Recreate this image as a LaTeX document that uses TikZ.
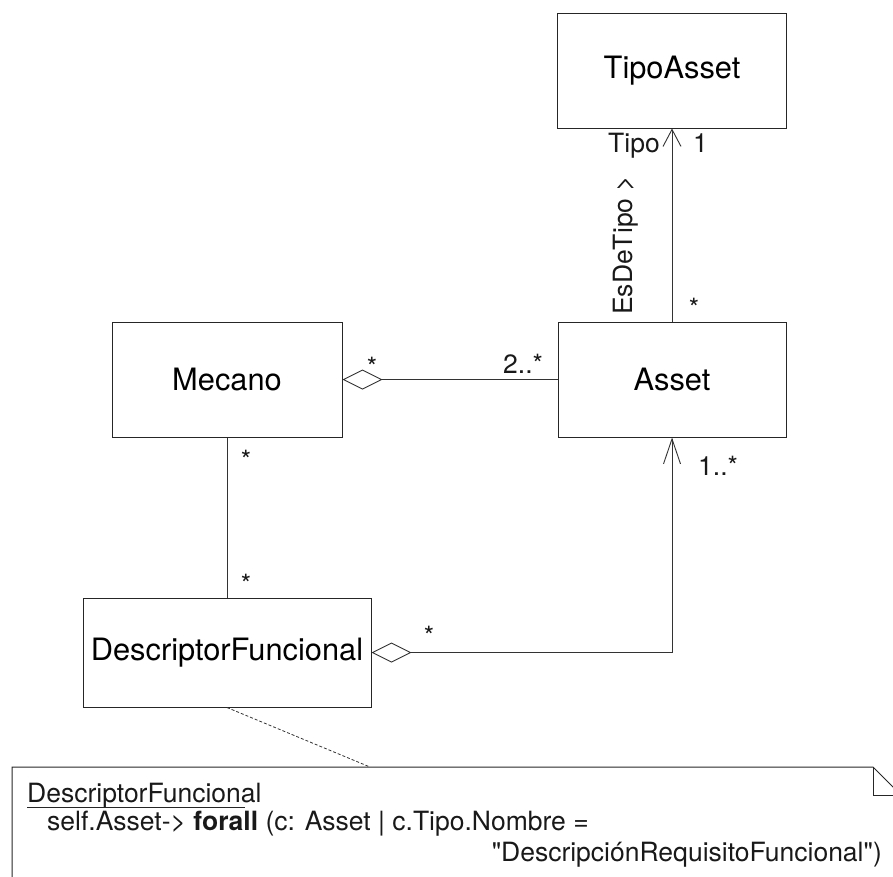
\documentclass[tikz,border=0pt]{standalone}
\usepackage{fontspec}
\setmainfont{TeX Gyre Heros}
\newfontfamily\plainheros{TeX Gyre Heros}[Ligatures=TeXOff]
\usetikzlibrary{arrows.meta}
\begin{document}
\begin{tikzpicture}[x=1pt,y=-1pt,
  cls/.style={draw=black!85, line width=1pt, inner sep=0pt, font=\fontsize{30.8}{36}\selectfont},
  lbl/.style={inner sep=0pt, font=\fontsize{26.5}{32}\selectfont, text=black!90},
  conn/.style={draw=black!80, line width=0.9pt},
  agg/.style={{Diamond[open,length=40pt,width=20pt]}-},
  aggnav/.style={{Diamond[open,length=40pt,width=20pt]}-{Straight Barb[length=25pt,width=17pt]}},
  navA/.style={-{Straight Barb[length=17pt,width=18pt]}},
  noteline/.style={draw=black!85, line width=1pt},
]
\useasboundingbox (0,0) rectangle (893,876);
\clip (0,0) rectangle (893,876);

% classes
\node[cls, minimum width=229pt, minimum height=115pt] (tipo) at (672,70.5) {TipoAsset};
\node[cls, minimum width=228pt, minimum height=115pt] (asset) at (672,379.5) {Asset};
\node[cls, minimum width=230pt, minimum height=115pt] (mecano) at (227,379.5) {Mecano};
\node[cls, minimum width=288pt, minimum height=109pt] (df) at (227,652.5) {DescriptorFuncional};

% connectors
\draw[conn, navA] (asset.north) -- (tipo.south);
\draw[conn, agg] (mecano.east) -- (asset.west);
\draw[conn] (mecano.south) -- (df.north);
\draw[conn, aggnav] (df.east) -| (asset.south);

% labels
\node[lbl, anchor=base west] (ltipo) at (608,152) {Tipo};
\node[lbl, anchor=base west] (lone) at (693,152) {1};
\node[lbl, anchor=base] (sA) at (694,317) {*};
\node[lbl, anchor=base west, rotate=90] (esde) at (632,315) {EsDeTipo >};
\node[lbl, anchor=base] (sM) at (372,376) {*};
\node[lbl, anchor=base west] (ltwo) at (503,373) {2..*};
\node[lbl, anchor=base] (sMd) at (246,469) {*};
\node[lbl, anchor=base] (sDu) at (246,593) {*};
\node[lbl, anchor=base] (sD) at (429,645) {*};
\node[lbl, anchor=base west] (lonen) at (698,475) {1..*};

% note
\coordinate (noteanchor) at (370,767);
\draw[draw=black!80, line width=0.8pt, dash pattern=on 3pt off 2pt] (df.south) -- (noteanchor);
\draw[noteline] (12,900) -- (12,767) -- (873,767) -- (901,795) -- (901,900);
\draw[noteline] (873,767) -- (873,795) -- (901,795);
\node[lbl, anchor=base west] (ntitle) at (27,802) {DescriptorFuncional};
\draw[draw=black!85, line width=0.9pt] (ntitle.base west) ++(0,5) -- ++(218,0);
\node[lbl, anchor=base west] (nbody) at (47,830) {self.Asset-> \textbf{forall} (c: Asset | c.Tipo.Nombre =};
\node[lbl, anchor=base east] (nbody2) at (882,861) {\plainheros "DescripciónRequisitoFuncional")};
\end{tikzpicture}
\end{document}
